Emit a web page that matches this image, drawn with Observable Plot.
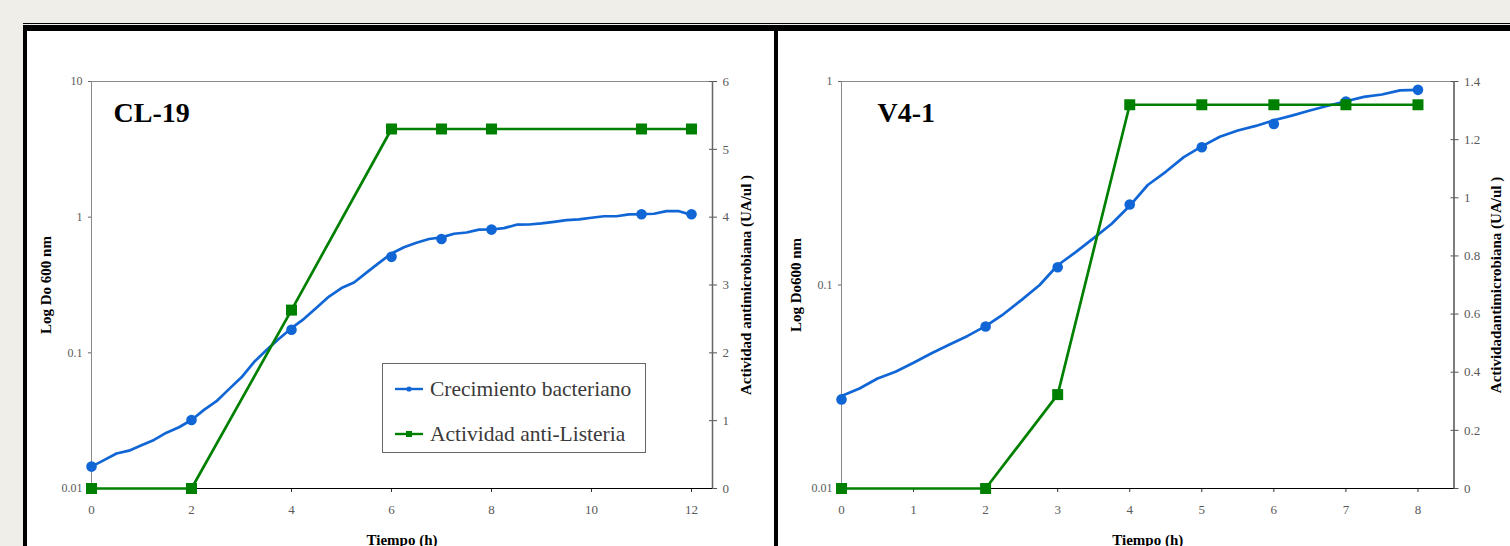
<!DOCTYPE html>
<html><head><meta charset="utf-8">
<script src="https://cdn.jsdelivr.net/npm/d3@7"></script>
<script src="https://cdn.jsdelivr.net/npm/@observablehq/plot@0.6"></script>
<style>
html,body{margin:0;padding:0;background:#efeee8;}
#stage{position:relative;width:1510px;height:546px;overflow:hidden;background:#efeee8;font-family:"Liberation Serif",serif;}
#topline{position:absolute;left:23px;top:22.5px;right:0;height:1.5px;background:#000;}
#sheet{position:absolute;left:23px;top:25px;right:0;bottom:-10px;background:#fff;border-left:4px solid #000;border-top:6px solid #000;}
#divider{position:absolute;left:774px;top:25px;width:4px;bottom:0;background:#000;}
.panel{position:absolute;top:31px;}
#p1{left:28px;} #p2{left:778px;}
.panel svg{overflow:visible;}
[aria-label="x-axis label"] text,[aria-label="y-axis label"] text{font-weight:700;fill:#000;font-size:15px;}
#legend{position:absolute;left:382px;top:363px;width:264px;height:90px;border:1px solid #666;background:#fff;box-sizing:border-box;}
#legend .row{position:absolute;left:12px;height:26px;display:flex;align-items:center;font-size:21.5px;color:#3a3a3a;white-space:nowrap;}
#legend svg{margin-right:5px;}
</style>
</head><body>
<div id="stage">
  <div id="topline"></div>
  <div id="sheet"></div>
  <div id="divider"></div>
  <div class="panel" id="p1"></div>
  <div class="panel" id="p2"></div>
  <div id="legend"></div>
</div>
<script>
// ---------- Panel 1: CL-19 ----------
const cl19Title = "CL-19";
const cl19LineTime = [0,0.25,0.5,0.75,1,1.25,1.5,1.75,2,2.25,2.5,2.75,3,3.25,3.5,3.75,4,4.25,4.5,4.75,5,5.25,5.5,5.75,6,6.25,6.5,6.75,7,7.25,7.5,7.75,8,8.25,8.5,8.75,9,9.25,9.5,9.75,10,10.25,10.5,10.75,11,11.25,11.5,11.75,12];
const cl19LineOD   = [0.0145,0.0162,0.0181,0.019,0.0208,0.0228,0.0258,0.0283,0.032,0.038,0.044,0.054,0.066,0.0855,0.105,0.127,0.152,0.178,0.215,0.26,0.30,0.33,0.39,0.46,0.54,0.60,0.648,0.69,0.71,0.755,0.771,0.81,0.811,0.83,0.88,0.883,0.90,0.923,0.95,0.962,0.99,1.016,1.016,1.05,1.052,1.06,1.107,1.107,1.04];
const cl19MarkTime = [0,2,4,6,7,8,11,12];
const cl19MarkOD   = [0.0145,0.032,0.148,0.51,0.69,0.81,1.05,1.05];
const cl19ActTime  = [0,2,4,6,7,8,11,12];
const cl19Activity = [0,0,2.63,5.3,5.3,5.3,5.3,5.3];
const cl19XTicks = [0,2,4,6,8,10,12];
const cl19YTicks = [0.01,0.1,1,10];
const cl19YLabels = ["0.01","0.1","1","10"];
const cl19RTicks = [0,1,2,3,4,5,6];
const cl19RLabels = ["0","1","2","3","4","5","6"];

// ---------- Panel 2: V4-1 ----------
const v41Title = "V4-1";
const v41LineTime = [0,0.25,0.5,0.75,1,1.25,1.5,1.75,2,2.25,2.5,2.75,3,3.25,3.5,3.75,4,4.25,4.5,4.75,5,5.25,5.5,5.75,6,6.25,6.5,6.75,7,7.25,7.5,7.75,8];
const v41LineOD   = [0.0285,0.031,0.0347,0.0375,0.0415,0.0462,0.051,0.0562,0.0628,0.072,0.0845,0.100,0.125,0.145,0.17,0.20,0.245,0.31,0.36,0.425,0.48,0.535,0.574,0.605,0.645,0.68,0.72,0.76,0.80,0.84,0.863,0.905,0.91];
const v41MarkTime = [0,2,3,4,5,6,7,8];
const v41MarkOD   = [0.0274,0.0625,0.1223,0.2486,0.4755,0.619,0.798,0.91];
const v41ActTime  = [0,2,3,4,5,6,7,8];
const v41Activity = [0,0,0.323,1.32,1.32,1.32,1.32,1.32];
const v41XTicks = [0,1,2,3,4,5,6,7,8];
const v41YTicks = [0.01,0.1,1];
const v41YLabels = ["0.01","0.1","1"];
const v41RTicks = [0,0.2,0.4,0.6,0.8,1,1.2,1.4];
const v41RLabels = ["0","0.2","0.4","0.6","0.8","1","1.2","1.4"];

const seriesNames = ["Crecimiento bacteriano","Actividad anti-Listeria"];
const blue = "#1166d6", green = "#008000";

function panel(c){
  const decades = Math.log10(c.yDomain[1]/c.yDomain[0]);
  const toY = r => c.yDomain[0]*Math.pow(10, r*decades/c.rDomain[1]);
  const line = c.lineT.map((t,i)=>({t, v:c.lineV[i]}));
  const marks = c.markT.map((t,i)=>({t, v:c.markV[i]}));
  const act = c.actT.map((t,i)=>({t, v:toY(c.actV[i])}));
  const nearest = (arr, v) => { let b=0; arr.forEach((a,i)=>{ if (Math.abs(a-v) < Math.abs(arr[b]-v)) b=i; }); return b; };
  const yFmt = d => c.yLabels[nearest(c.yTicks.map(Math.log10), Math.log10(d))];
  const rTickData = c.rTicks.map((r,i)=>({y:toY(r), label:c.rLabels[i]}));
  return Plot.plot({
    width:c.width, height:515,
    marginLeft:63, marginRight:c.marginRight, marginTop:50, marginBottom:58,
    x:{domain:c.xDomain},
    y:{type:"log", domain:c.yDomain},
    style:{fontFamily:"'Liberation Serif', serif", background:"transparent", overflow:"visible"},
    marks:[
      Plot.frame({stroke:"#8a8a8a", strokeWidth:1}),
      Plot.axisX({ticks:c.xTicks, tickSize:4, tickPadding:12, fontSize:13, stroke:"#333", fill:"#5a5a5a",
        label:"Tiempo (h)", labelAnchor:"center", labelArrow:"none", labelOffset:56}),
      Plot.axisY({ticks:c.yTicks, tickFormat:yFmt, tickSize:3, tickPadding:6, fontSize:12, stroke:"#666", fill:"#5a5a5a",
        label:c.yLabel, labelAnchor:"center", labelArrow:"none", labelOffset:51}),
      Plot.axisY({anchor:"right", ticks:rTickData.map(d=>d.y), tickFormat:()=>"", tickSize:8, dx:-4, stroke:"#555",
        label:c.rLabel, labelAnchor:"center", labelArrow:"none", labelOffset:c.rLabelOffset}),
      Plot.text(rTickData, {y:"y", text:"label", frameAnchor:"right", dx:10, textAnchor:"start", fontSize:13, fill:"#5a5a5a"}),
      Plot.ruleX([c.xDomain[1]], {stroke:"#666", strokeWidth:1.5}),
      Plot.ruleY([c.yDomain[0]], {stroke:"#000", strokeWidth:1.2}),
      Plot.line(line, {x:"t", y:"v", stroke:blue, strokeWidth:2.7, curve:"linear"}),
      Plot.dot(marks, {x:"t", y:"v", r:5.3, fill:blue, stroke:"none"}),
      Plot.line(act, {x:"t", y:"v", stroke:green, strokeWidth:2.7}),
      Plot.dot(act, {x:"t", y:"v", symbol:"square", r:6.2, fill:green, stroke:"none"}),
      Plot.text([c.title], {frameAnchor:"top-left", dx:c.titleDx, dy:21, text:d=>d, fontSize:28, fontWeight:"bold", fill:"#000", lineAnchor:"top", textAnchor:"start"})
    ]
  });
}

document.getElementById("p1").appendChild(panel({
  width:746, marginRight:62, xDomain:[0,12.42], yDomain:[0.01,10], rDomain:[0,6],
  lineT:cl19LineTime, lineV:cl19LineOD, markT:cl19MarkTime, markV:cl19MarkOD, actT:cl19ActTime, actV:cl19Activity,
  xTicks:cl19XTicks, yTicks:cl19YTicks, yLabels:cl19YLabels, rTicks:cl19RTicks, rLabels:cl19RLabels,
  yLabel:"Log Do 600 nm", rLabel:"Actividad antimicrobiana (UA/ul )", rLabelOffset:38, title:cl19Title, titleDx:22
}));
document.getElementById("p2").appendChild(panel({
  width:732, marginRight:56.5, xDomain:[0,8.5], yDomain:[0.01,1], rDomain:[0,1.4],
  lineT:v41LineTime, lineV:v41LineOD, markT:v41MarkTime, markV:v41MarkOD, actT:v41ActTime, actV:v41Activity,
  xTicks:v41XTicks, yTicks:v41YTicks, yLabels:v41YLabels, rTicks:v41RTicks, rLabels:v41RLabels,
  yLabel:"Log Do600 nm", rLabel:"Actividadantimicrobiana (UA/ul )", rLabelOffset:47, title:v41Title, titleDx:36
}));

// legend (panel 1)
const leg = document.getElementById("legend");
seriesNames.forEach((name,i)=>{
  const row = document.createElement("div");
  row.className = "row";
  row.style.top = (i===0 ? 12 : 57) + "px";
  const col = i===0 ? blue : green;
  const sym = i===0 ? `<circle cx="14" cy="6" r="2.6" fill="${col}"/>` : `<rect x="11" y="3" width="6" height="6" fill="${col}"/>`;
  row.innerHTML = `<svg width="30" height="12"><line x1="0" x2="28" y1="6" y2="6" stroke="${col}" stroke-width="2.4"/>${sym}</svg><span>${name}</span>`;
  leg.appendChild(row);
});
</script>
</body></html>
